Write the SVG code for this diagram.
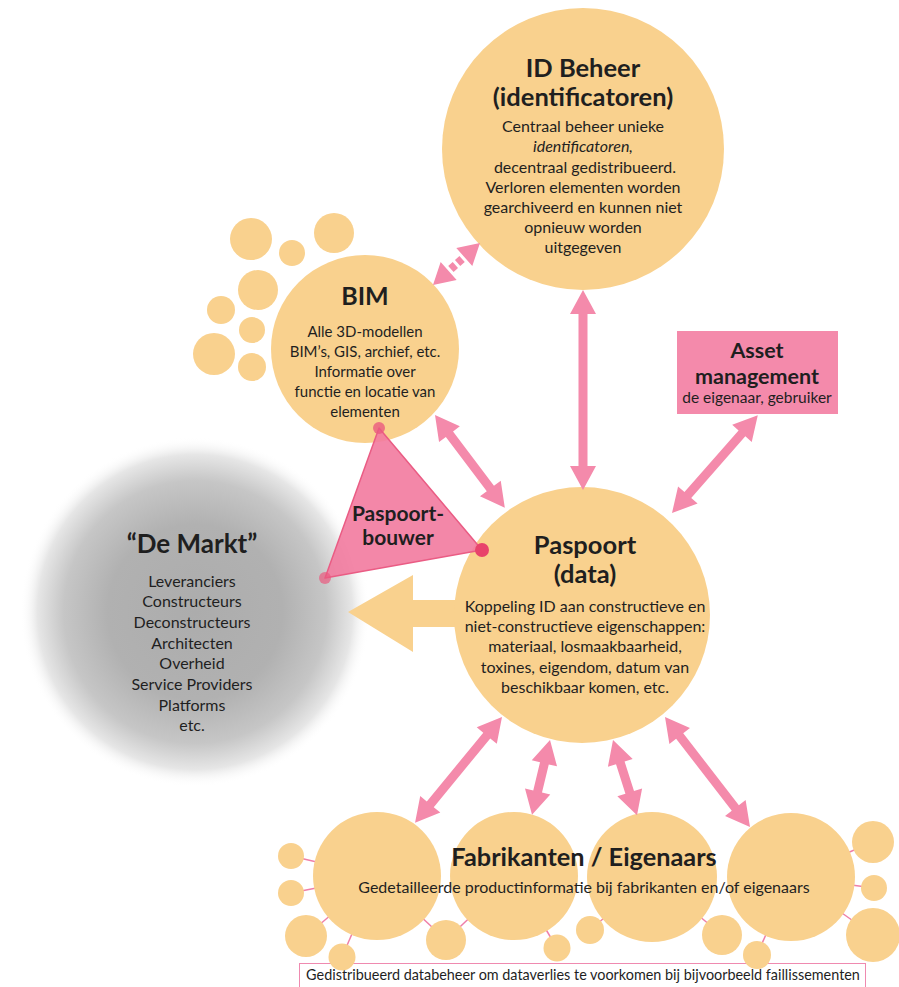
<svg xmlns="http://www.w3.org/2000/svg" width="899" height="987" viewBox="0 0 899 987">
<defs>
<radialGradient id="gray" cx="0.5" cy="0.5" r="0.5">
<stop offset="0" stop-color="#acacac"/>
<stop offset="0.5" stop-color="#b1b1b1"/>
<stop offset="0.75" stop-color="#c6c6c6"/>
<stop offset="0.9" stop-color="#e6e6e6"/>
<stop offset="1" stop-color="#ffffff" stop-opacity="0"/>
</radialGradient>
<style>
.o{fill:#f9d18e}
.arr{fill:#f48aab}
.lnk{stroke:#ef7fa8;stroke-width:1.5}
text{font-family:Lato,"Open Sans","Liberation Sans",sans-serif;fill:#1f1f1f;text-anchor:middle}
.h{font-weight:bold}
.t{font-size:16px}
</style>
</defs>
<rect width="899" height="987" fill="#ffffff"/>

<g id="demarkt">
<circle cx="195" cy="612" r="175" fill="url(#gray)"/>
<text class="h" x="192" y="553" font-size="26">“De Markt”</text>
<text class="t" x="192" y="587">Leveranciers</text>
<text class="t" x="192" y="607">Constructeurs</text>
<text class="t" x="192" y="628">Deconstructeurs</text>
<text class="t" x="192" y="649">Architecten</text>
<text class="t" x="192" y="669">Overheid</text>
<text class="t" x="192" y="690">Service Providers</text>
<text class="t" x="192" y="711">Platforms</text>
<text class="t" x="192" y="731">etc.</text>
</g>

<g id="bim-cluster">
<circle class="o" cx="251" cy="239" r="21"/>
<circle class="o" cx="292" cy="253" r="13"/>
<circle class="o" cx="334" cy="233" r="20"/>
<circle class="o" cx="258" cy="290" r="20"/>
<circle class="o" cx="221" cy="310" r="14"/>
<circle class="o" cx="252" cy="330" r="13"/>
<circle class="o" cx="214" cy="354" r="21"/>
<circle class="o" cx="252" cy="367" r="14"/>
</g>

<g id="bim">
<circle class="o" cx="365" cy="349" r="94"/>
<text class="h" x="365" y="305" font-size="25">BIM</text>
<text x="365" y="337" font-size="15">Alle 3D-modellen</text>
<text x="365" y="357" font-size="15">BIM’s, GIS, archief, etc.</text>
<text x="365" y="377" font-size="15">Informatie over</text>
<text x="365" y="397" font-size="15">functie en locatie van</text>
<text x="365" y="417" font-size="15">elementen</text>
</g>

<g id="idbeheer">
<circle class="o" cx="583" cy="149" r="141"/>
<text class="h" x="583" y="77" font-size="25.5">ID Beheer</text>
<text class="h" x="583" y="106" font-size="25.5">(identificatoren)</text>
<text class="t" x="583" y="132">Centraal beheer unieke</text>
<text class="t" x="583" y="152" font-style="italic">identificatoren,</text>
<text class="t" x="585" y="173">decentraal gedistribueerd.</text>
<text class="t" x="583" y="193">Verloren elementen worden</text>
<text class="t" x="583" y="213">gearchiveerd en kunnen niet</text>
<text class="t" x="583" y="233">opnieuw worden</text>
<text class="t" x="583" y="253">uitgegeven</text>
</g>

<g id="asset">
<rect x="677" y="331" width="161" height="83" fill="#f48aab"/>
<text class="h" x="757" y="358" font-size="21.5">Asset</text>
<text class="h" x="757" y="384" font-size="21.5">management</text>
<text x="757" y="403" font-size="15.5">de eigenaar, gebruiker</text>
</g>

<g id="markt-arrow">
<polygon class="o" points="348,612 413,575 413,600 470,600 470,627 413,627 413,652"/>
</g>

<g id="paspoort">
<circle class="o" cx="582" cy="615" r="128"/>
<text class="h" x="585" y="554" font-size="25.5">Paspoort</text>
<text class="h" x="585" y="583" font-size="25.5">(data)</text>
<text class="t" x="585" y="612">Koppeling ID aan constructieve en</text>
<text class="t" x="585" y="632">niet-constructieve eigenschappen:</text>
<text class="t" x="585" y="652">materiaal, losmaakbaarheid,</text>
<text class="t" x="585" y="673">toxines, eigendom, datum van</text>
<text class="t" x="585" y="693">beschikbaar komen, etc.</text>
</g>

<g id="paspoortbouwer">
<polygon points="379,428 482,550 325,578" fill="#f27a9e" fill-opacity="0.9" stroke="#ea5c84" stroke-width="1.5" stroke-linejoin="round"/>
<circle cx="379" cy="428" r="6" fill="#ea5a7f" fill-opacity="0.8"/>
<circle cx="482" cy="550" r="7" fill="#e8436b"/>
<circle cx="325" cy="578" r="6" fill="#ea5a7f" fill-opacity="0.7"/>
<text class="h" x="398" y="521" font-size="21">Paspoort-</text>
<text class="h" x="398" y="545" font-size="21">bouwer</text>
</g>

<g id="footer-box">
<rect x="299.5" y="963.5" width="566" height="30" fill="#ffffff" stroke="#ef8ab0" stroke-width="1"/>
<text x="583" y="980" font-size="14.4">Gedistribueerd databeheer om dataverlies te voorkomen bij bijvoorbeeld faillissementen</text>
</g>

<g id="fabrikanten">
<line class="lnk" x1="291" y1="856" x2="377" y2="876"/>
<line class="lnk" x1="291" y1="893" x2="377" y2="876"/>
<line class="lnk" x1="306" y1="936" x2="377" y2="876"/>
<line class="lnk" x1="342" y1="957" x2="377" y2="876"/>
<line class="lnk" x1="446" y1="940" x2="377" y2="876"/>
<line class="lnk" x1="446" y1="940" x2="514" y2="876"/>
<line class="lnk" x1="557" y1="948" x2="514" y2="876"/>
<line class="lnk" x1="590" y1="930" x2="652" y2="877"/>
<line class="lnk" x1="722" y1="935" x2="652" y2="877"/>
<line class="lnk" x1="757" y1="955" x2="791" y2="877"/>
<line class="lnk" x1="873" y1="842" x2="791" y2="877"/>
<line class="lnk" x1="874" y1="888" x2="791" y2="877"/>
<line class="lnk" x1="873" y1="935" x2="791" y2="877"/>
<circle class="o" cx="377" cy="876" r="64"/>
<circle class="o" cx="514" cy="876" r="64"/>
<circle class="o" cx="652" cy="877" r="65"/>
<circle class="o" cx="791" cy="877" r="64"/>
<circle class="o" cx="291" cy="856" r="13"/>
<circle class="o" cx="291" cy="893" r="13"/>
<circle class="o" cx="306" cy="936" r="21"/>
<circle class="o" cx="342" cy="957" r="13.5"/>
<circle class="o" cx="446" cy="940" r="20"/>
<circle class="o" cx="557" cy="948" r="13.5"/>
<circle class="o" cx="590" cy="930" r="14"/>
<circle class="o" cx="722" cy="935" r="20"/>
<circle class="o" cx="757" cy="955" r="14"/>
<circle class="o" cx="873" cy="842" r="21"/>
<circle class="o" cx="874" cy="888" r="13"/>
<circle class="o" cx="873" cy="935" r="27"/>
<text class="h" x="584" y="866" font-size="25.3">Fabrikanten / Eigenaars</text>
<text x="584" y="893" font-size="16">Gedetailleerde productinformatie bij fabrikanten en/of eigenaars</text>
</g>

<g id="connectors">
<path class="arr" transform="translate(583 290) rotate(90)" d="M0,0 L24,-13 L24,-4.5 L176,-4.5 L176,-13 L200,0 L176,13 L176,4.5 L24,4.5 L24,13 Z"/>
<path class="arr" transform="translate(435 415) rotate(53)" d="M0,0 L24,-13 L24,-4.5 L92,-4.5 L92,-13 L116,0 L92,13 L92,4.5 L24,4.5 L24,13 Z"/>
<path class="arr" transform="translate(672 513) rotate(-48.7)" d="M0,0 L24,-13 L24,-4.5 L106,-4.5 L106,-13 L130,0 L106,13 L106,4.5 L24,4.5 L24,13 Z"/>
<g class="arr" transform="translate(433 285) rotate(-41.8)">
<path d="M0,0 L21,-12 L21,12 Z M63,0 L42,-12 L42,12 Z"/>
<rect x="24" y="-4" width="6" height="8"/>
<rect x="33" y="-4" width="6" height="8"/>
</g>
<path class="arr" transform="translate(502 717) rotate(129.4)" d="M0,0 L24,-13 L24,-4.5 L113,-4.5 L113,-13 L137,0 L113,13 L113,4.5 L24,4.5 L24,13 Z"/>
<path class="arr" transform="translate(550 740) rotate(103.5)" d="M0,0 L24,-13 L24,-4.5 L53,-4.5 L53,-13 L77,0 L53,13 L53,4.5 L24,4.5 L24,13 Z"/>
<path class="arr" transform="translate(613 740) rotate(72.3)" d="M0,0 L24,-13 L24,-4.5 L55,-4.5 L55,-13 L79,0 L55,13 L55,4.5 L24,4.5 L24,13 Z"/>
<path class="arr" transform="translate(665 717) rotate(52.3)" d="M0,0 L24,-13 L24,-4.5 L115,-4.5 L115,-13 L139,0 L115,13 L115,4.5 L24,4.5 L24,13 Z"/>
</g>
</svg>
